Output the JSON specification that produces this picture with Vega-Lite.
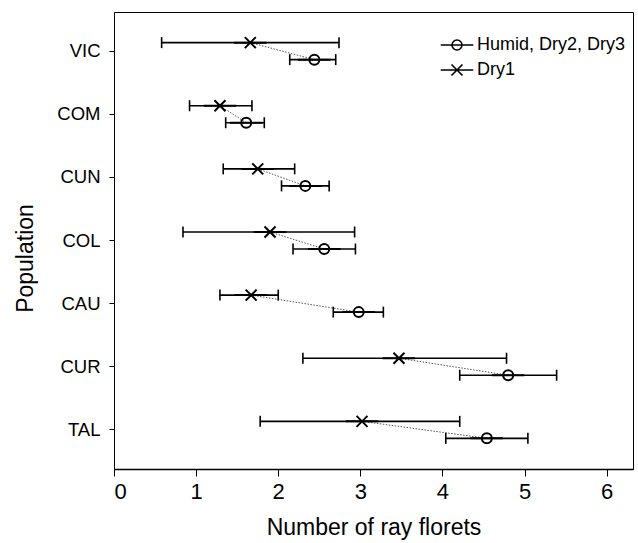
{
  "$schema": "https://vega.github.io/schema/vega-lite/v6.json",
  "autosize": "none",
  "padding": {"left": 114, "top": 12, "right": 5, "bottom": 74},
  "width": 519,
  "height": 457,
  "background": "white",
  "config": {
    "font": "Liberation Sans",
    "view": {"stroke": "black", "strokeWidth": 1},
    "axis": {
      "domainColor": "black", "tickColor": "black", "labelColor": "black", "titleColor": "black",
      "titleFontWeight": "normal", "grid": false, "labelFont": "Liberation Sans", "titleFont": "Liberation Sans"
    },
    "legend": {"labelFont": "Liberation Sans", "labelColor": "black"}
  },
  "data": {
    "values": [
      {"pop": "VIC", "cond": "Dry1", "mean": 1.66, "low": 0.58, "high": 2.74},
      {"pop": "VIC", "cond": "Humid, Dry2, Dry3", "mean": 2.44, "low": 2.14, "high": 2.70},
      {"pop": "COM", "cond": "Dry1", "mean": 1.29, "low": 0.92, "high": 1.68},
      {"pop": "COM", "cond": "Humid, Dry2, Dry3", "mean": 1.61, "low": 1.36, "high": 1.83},
      {"pop": "CUN", "cond": "Dry1", "mean": 1.75, "low": 1.33, "high": 2.20},
      {"pop": "CUN", "cond": "Humid, Dry2, Dry3", "mean": 2.33, "low": 2.04, "high": 2.62},
      {"pop": "COL", "cond": "Dry1", "mean": 1.90, "low": 0.84, "high": 2.93},
      {"pop": "COL", "cond": "Humid, Dry2, Dry3", "mean": 2.56, "low": 2.18, "high": 2.94},
      {"pop": "CAU", "cond": "Dry1", "mean": 1.67, "low": 1.29, "high": 2.00},
      {"pop": "CAU", "cond": "Humid, Dry2, Dry3", "mean": 2.98, "low": 2.67, "high": 3.28},
      {"pop": "CUR", "cond": "Dry1", "mean": 3.47, "low": 2.30, "high": 4.78},
      {"pop": "CUR", "cond": "Humid, Dry2, Dry3", "mean": 4.80, "low": 4.21, "high": 5.39},
      {"pop": "TAL", "cond": "Dry1", "mean": 3.02, "low": 1.78, "high": 4.21},
      {"pop": "TAL", "cond": "Humid, Dry2, Dry3", "mean": 4.54, "low": 4.04, "high": 5.04}
    ]
  },
  "encoding": {
    "y": {
      "field": "pop", "type": "nominal",
      "scale": {"domain": ["VIC", "COM", "CUN", "COL", "CAU", "CUR", "TAL"], "paddingInner": 0, "paddingOuter": 0.12},
      "axis": {
        "title": "Population", "titleFontSize": 23, "labelFontSize": 18.5,
        "tickSize": 5, "labelPadding": 9, "titleAngle": -90, "titleX": -82, "titleY": 246,
        "titleBaseline": "alphabetic", "titleAlign": "center"
      }
    },
    "yOffset": {
      "field": "cond", "type": "nominal",
      "scale": {"domain": ["Dry1", "Humid, Dry2, Dry3"], "paddingInner": 0, "paddingOuter": 0.856}
    }
  },
  "layer": [
    {
      "mark": {"type": "line", "color": "#555555", "strokeWidth": 1, "strokeDash": [1.5, 1.5]},
      "encoding": {
        "x": {"field": "mean", "type": "quantitative", "scale": {"domain": [0, 6.32], "nice": false, "zero": false},
          "axis": {"title": "Number of ray florets", "titleFontSize": 23, "labelFontSize": 22, "values": [0,1,2,3,4,5,6],
            "format": "d", "tickSize": 7, "labelPadding": 5, "domainWidth": 1.5, "titleY": 65, "titleBaseline": "alphabetic"}},
        "detail": {"field": "pop"}
      }
    },
    {
      "mark": {"type": "rule", "color": "black", "strokeWidth": 1.6},
      "encoding": {
        "x": {"field": "low", "type": "quantitative"},
        "x2": {"field": "high"}
      }
    },
    {
      "mark": {"type": "tick", "color": "black", "orient": "vertical", "size": 11, "thickness": 1.6, "opacity": 1},
      "encoding": {"x": {"field": "low", "type": "quantitative"}}
    },
    {
      "mark": {"type": "tick", "color": "black", "orient": "vertical", "size": 11, "thickness": 1.6, "opacity": 1},
      "encoding": {"x": {"field": "high", "type": "quantitative"}}
    },
    {
      "mark": {"type": "point", "filled": false, "color": "black", "size": 100, "strokeWidth": 2, "opacity": 1},
      "encoding": {
        "x": {"field": "mean", "type": "quantitative"},
        "shape": {
          "field": "cond", "type": "nominal",
          "scale": {
            "domain": ["Humid, Dry2, Dry3", "Dry1"],
            "range": [
              "M-3.26,0L3.26,0M-1,0A1,1,0,1,0,1,0A1,1,0,1,0,-1,0Z",
              "M-3.26,0L3.26,0M-1.1,-1.1L1.1,1.1M-1.1,1.1L1.1,-1.1"
            ]
          },
          "legend": {
            "title": null, "orient": "none", "legendX": 334, "legendY": 24,
            "padding": 0, "labelFontSize": 18, "labelOffset": 11, "rowPadding": 7,
            "symbolSize": 100, "symbolStrokeWidth": 1.6, "symbolStrokeColor": "black", "symbolFillColor": "transparent"
          }
        }
      }
    }
  ]
}
